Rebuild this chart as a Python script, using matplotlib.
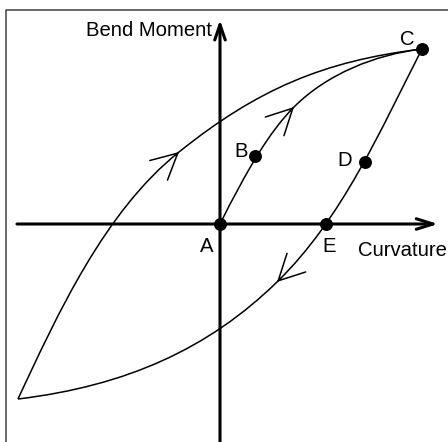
import matplotlib
matplotlib.use("Agg")
import matplotlib.pyplot as plt
from matplotlib.path import Path
from matplotlib.patches import PathPatch, FancyArrowPatch

plt.rcParams['font.family'] = ['Liberation Sans', 'DejaVu Sans']

# coordinates: origin at point A, one unit = one pixel of the reference
point_names = ['A', 'B', 'C', 'D', 'E']
point_x = [0, 35, 202, 145, 106]
point_y = [0, 68, 175, 62, 0]

# label anchors (baseline, centred)
label_x = [-13, 21, 187, 125, 109]
label_y = [-28, 67, 179, 58, -28]

# cubic bezier control points of the three branches
loading_ctrl = [(0, 0), (26.8, 53.6), (49.3, 92.3), (74, 117),
                (107.2, 150.2), (155.3, 169.4), (202, 175)]
upper_ctrl = [(-202, -175), (-162, -89), (-115, 13), (-41, 72),
              (37, 134.5), (103, 163), (202, 175)]
unload_ctrl = [(202, 175), (160.5, 94), (122.2, 5.5), (57, -58),
               (-11, -124.3), (-92.8, -161.8), (-202, -175)]

# direction arrows on the curves: (tail, tip)
curve_arrows = [((70, 113), (74, 117)),
                ((-45, 68.4), (-41, 72)),
                ((61, -54), (57, -58))]

# axes extents
x_axis = (-203, 218)
y_axis = (-222, 204)


def bezier_path(ctrl):
    codes = [Path.MOVETO] + [Path.CURVE4] * (len(ctrl) - 1)
    return Path(ctrl, codes)


fig = plt.figure(figsize=(4.48, 4.42), dpi=100)
ax = fig.add_axes([0, 0, 1, 1])
ax.set_xlim(-220, 228)
ax.set_ylim(-218, 224)
ax.axis('off')

# outer frame (runs off the right and bottom of the picture)
ax.plot([-214, -214, 300], [-300, 214.5, 214.5], color='#404040', lw=1.1)

# coordinate axes with open arrow heads
ax.add_patch(FancyArrowPatch((x_axis[0], 0), (x_axis[1], 0),
                             arrowstyle='->,head_length=12,head_width=3.8',
                             mutation_scale=1, lw=2.2, color='black',
                             shrinkA=0, shrinkB=0, zorder=3))
ax.add_patch(FancyArrowPatch((0, y_axis[0]), (0, y_axis[1]),
                             arrowstyle='->,head_length=11,head_width=3.8',
                             mutation_scale=1, lw=2.2, color='black',
                             shrinkA=0, shrinkB=0, zorder=3))

for ctrl in (loading_ctrl, upper_ctrl, unload_ctrl):
    ax.add_patch(PathPatch(bezier_path(ctrl), fill=False, lw=1.1,
                           edgecolor='black', zorder=4))

for tail, tip in curve_arrows:
    ax.add_patch(FancyArrowPatch(tail, tip,
                                 arrowstyle='->,head_length=18.5,head_width=9.5',
                                 mutation_scale=1, lw=1.1, color='black',
                                 shrinkA=0, shrinkB=0, zorder=4))

ax.plot(point_x, point_y, 'o', color='black', markersize=8.3, zorder=5)
for name, lx, ly in zip(point_names, label_x, label_y):
    ax.text(lx, ly, name, fontsize=14.6, ha='center', va='baseline')

ax.text(-8, 188, 'Bend Moment', fontsize=14.6, ha='right', va='baseline')
ax.text(138, -32, 'Curvature', fontsize=14.6, ha='left', va='baseline')

fig.savefig('out.png', dpi=100)
